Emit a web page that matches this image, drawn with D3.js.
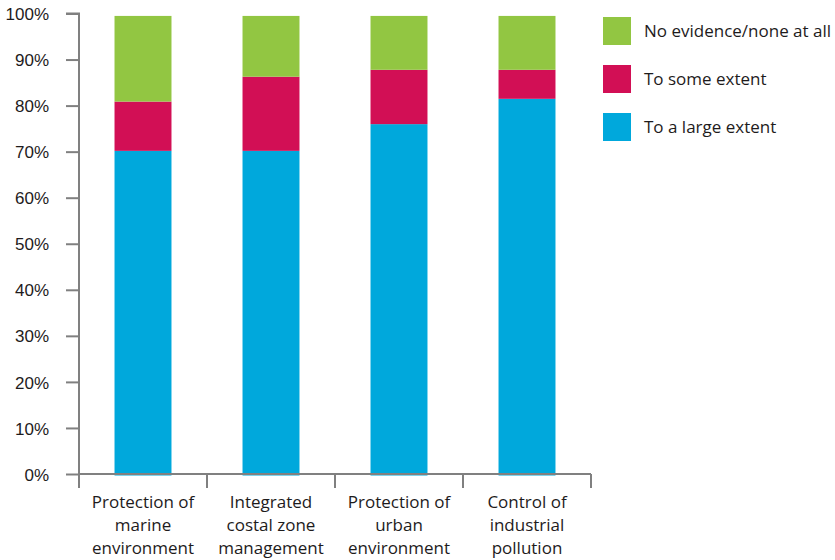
<!DOCTYPE html>
<html>
<head>
<meta charset="utf-8">
<script src="https://cdn.jsdelivr.net/npm/d3@7"></script>
<style>
  html, body { margin: 0; padding: 0; background: #fff; }
  svg { display: block; font-family: "Open Sans", "Noto Sans", sans-serif; }
</style>
</head>
<body>
<svg id="chart" width="835" height="560"></svg>
<script>
// Share of responses per policy area (percent)
const categories = [
  ["Protection of", "marine", "environment"],
  ["Integrated", "costal zone", "management"],
  ["Protection of", "urban", "environment"],
  ["Control of", "industrial", "pollution"]
];
const seriesNames = ["To a large extent", "To some extent", "No evidence/none at all"];
const largeExtent = [70.5, 70.5, 76.3, 81.8];
const someExtent  = [10.7, 16.1, 11.8, 6.3];
const noEvidence  = [18.6, 13.2, 11.7, 11.7];
const yTicks = [0, 10, 20, 30, 40, 50, 60, 70, 80, 90, 100];
const colors = ["#00a8dc", "#d20f55", "#92c642"];

const svg = d3.select("#chart");
const axisColor = "#808080";
const textColor = "#1e1b1c";
const fontSize = "17px";

const x = d3.scaleBand()
  .domain(d3.range(categories.length))
  .range([79, 591])
  .paddingInner(0.555)
  .paddingOuter(0.2775);

const y = d3.scaleLinear().domain([0, 100]).range([474, 13.5]);

// stacked rows
const rows = categories.map((c, i) => ({
  idx: i,
  [seriesNames[0]]: largeExtent[i],
  [seriesNames[1]]: someExtent[i],
  [seriesNames[2]]: noEvidence[i]
}));
const stacked = d3.stack().keys(seriesNames)(rows);

// bars
const barG = svg.append("g").attr("transform", "translate(0,1.5)");
barG.selectAll("g.series")
  .data(stacked)
  .join("g")
  .attr("class", "series")
  .attr("fill", (d, i) => colors[i])
  .selectAll("rect")
  .data(d => d)
  .join("rect")
  .attr("x", d => x(d.data.idx))
  .attr("width", x.bandwidth())
  .attr("y", d => y(d[1]))
  .attr("height", d => y(d[0]) - y(d[1]));

// y axis
const yAxis = svg.append("g")
  .attr("transform", "translate(79,0)")
  .call(d3.axisLeft(y).tickValues(yTicks).tickSize(13).tickPadding(17)
    .tickFormat(d => d + "%"));
yAxis.select(".domain").attr("stroke", axisColor).attr("stroke-width", 2)
  .attr("d", `M-13,${y(100)}H0V${y(0) + 14}`);
yAxis.selectAll(".tick line").attr("stroke", axisColor).attr("stroke-width", 2);
yAxis.selectAll(".tick text")
  .attr("fill", textColor).style("font-size", fontSize)
  .attr("dy", "0.36em");

// x axis with boundary ticks between categories
const xAxisG = svg.append("g").attr("transform", `translate(0,${y(0)})`);
xAxisG.append("line")
  .attr("x1", 79).attr("x2", 591).attr("y1", 0).attr("y2", 0)
  .attr("stroke", axisColor).attr("stroke-width", 2);
const bounds = d3.range(categories.length + 1).map(i => 79 + i * x.step());
xAxisG.selectAll("line.bound")
  .data(bounds)
  .join("line")
  .attr("class", "bound")
  .attr("x1", d => d).attr("x2", d => d)
  .attr("y1", 0).attr("y2", 14)
  .attr("stroke", axisColor).attr("stroke-width", 2);

// category labels
const labelG = svg.append("g");
categories.forEach((lines, i) => {
  const cx = x(i) + x.bandwidth() / 2;
  const t = labelG.append("text")
    .attr("x", cx)
    .attr("text-anchor", "middle")
    .attr("fill", textColor)
    .style("font-size", fontSize);
  lines.forEach((ln, j) => {
    t.append("tspan")
      .attr("x", cx)
      .attr("y", 508 + j * 23)
      .text(ln);
  });
});

// legend (top to bottom: green, red, blue)
const legendItems = seriesNames.map((n, i) => ({ name: n, color: colors[i] })).reverse();
const legend = svg.append("g").attr("transform", "translate(603,17)");
const li = legend.selectAll("g")
  .data(legendItems)
  .join("g")
  .attr("transform", (d, i) => `translate(0,${i * 48})`);
li.append("rect")
  .attr("width", 28).attr("height", 28)
  .attr("fill", d => d.color);
li.append("text")
  .attr("x", 41).attr("y", 14)
  .attr("dy", "0.36em")
  .attr("fill", textColor)
  .style("font-size", fontSize)
  .text(d => d.name);
</script>
</body>
</html>
